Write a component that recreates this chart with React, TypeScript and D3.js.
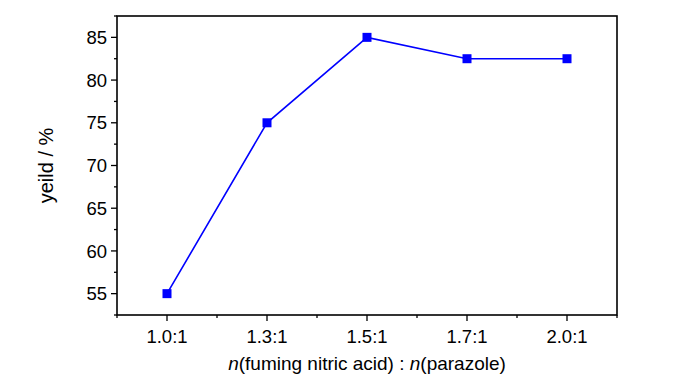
import React from "react";
import * as d3 from "d3";

// ratio of fuming nitric acid to pyrazole
const categories = ["1.0:1", "1.3:1", "1.5:1", "1.7:1", "2.0:1"];
const yieldValues = [55, 75, 85, 82.5, 82.5];
const yTicks = [55, 60, 65, 70, 75, 80, 85];
const yMinorTicks = [52.5, 57.5, 62.5, 67.5, 72.5, 77.5, 82.5, 87.5];

const width = 700;
const height = 374;
const margin = { top: 16, right: 83, bottom: 59, left: 117 };
const font = "'Liberation Sans', Arial, sans-serif";
const blue = "#0000ff";

export default function App() {
  const x = d3
    .scaleLinear()
    .domain([-0.5, categories.length - 0.5])
    .range([margin.left, width - margin.right]);
  const y = d3
    .scaleLinear()
    .domain([52.5, 87.5])
    .range([height - margin.bottom, margin.top]);

  const line = d3
    .line<number>()
    .x((d, i) => x(i))
    .y((d) => y(d));

  const x0 = x.range()[0];
  const x1 = x.range()[1];
  const yb = y.range()[0];
  const yt = y.range()[1];
  const xMinor = d3.range(-0.5, categories.length, 1);

  return (
    <svg
      width={width}
      height={height}
      style={{ position: "absolute", left: 0, top: 0, background: "#fff" }}
    >
      <rect x={x0} y={yt} width={x1 - x0} height={yb - yt} fill="none" stroke="#000" strokeWidth={1.6} />

      {/* y ticks */}
      {yTicks.map((t) => (
        <g key={t}>
          <line x1={x0 - 6} x2={x0} y1={y(t)} y2={y(t)} stroke="#000" strokeWidth={1.3} />
          <text x={x0 - 10} y={y(t)} dy="0.36em" textAnchor="end" fontFamily={font} fontSize={18.5}>
            {t}
          </text>
        </g>
      ))}
      {yMinorTicks.map((t) => (
        <line key={t} x1={x0 - 3} x2={x0} y1={y(t)} y2={y(t)} stroke="#000" strokeWidth={1.3} />
      ))}

      {/* x ticks */}
      {categories.map((c, i) => (
        <g key={c}>
          <line x1={x(i)} x2={x(i)} y1={yb} y2={yb + 6} stroke="#000" strokeWidth={1.3} />
          <text x={x(i)} y={yb + 28} textAnchor="middle" fontFamily={font} fontSize={18.5}>
            {c}
          </text>
        </g>
      ))}
      {xMinor.map((t) => (
        <line key={t} x1={x(t)} x2={x(t)} y1={yb} y2={yb + 3} stroke="#000" strokeWidth={1.3} />
      ))}

      <path d={line(yieldValues) ?? ""} fill="none" stroke={blue} strokeWidth={1.6} />
      {yieldValues.map((v, i) => (
        <rect key={i} x={x(i) - 4.5} y={y(v) - 4.5} width={9} height={9} fill={blue} />
      ))}

      <text
        transform={`translate(53,${(yt + yb) / 2}) rotate(-90)`}
        textAnchor="middle"
        fontFamily={font}
        fontSize={20}
      >
        yeild / %
      </text>
      <text x={(x0 + x1) / 2} y={yb + 55} textAnchor="middle" fontFamily={font} fontSize={19}>
        <tspan fontStyle="italic">n</tspan>(fuming nitric acid) : <tspan fontStyle="italic">n</tspan>(parazole)
      </text>
    </svg>
  );
}
